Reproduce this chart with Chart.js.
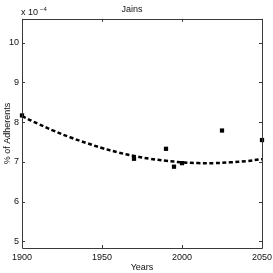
<!DOCTYPE html>
<html>
<head>
<meta charset="utf-8">
<script src="https://cdn.jsdelivr.net/npm/chart.js@4"></script>
<style>
html,body{margin:0;padding:0;background:#fff;overflow:hidden;}
#wrap{width:273px;height:273px;position:relative;}
</style>
</head>
<body>
<div id="wrap"><canvas id="c"></canvas></div>
<script>
// Observed data (units of 1e-4 %)
const obsYears = [1900, 1970, 1990, 1995, 2000, 2025, 2050];
const obsValues = [8.17, 7.08, 7.33, 6.88, 6.97, 7.79, 7.55];
// Fitted trend curve
const fitYears = [1900,1910,1920,1930,1940,1950,1960,1970,1980,1990,2000,2010,2020,2030,2040,2050];
const fitValues = [8.15,7.96,7.78,7.62,7.48,7.35,7.24,7.15,7.08,7.03,6.99,6.97,6.97,6.99,7.02,7.07];
const xTicks = [1900, 1950, 2000, 2050];
const yTicks = [5, 6, 7, 8, 9, 10];
const titleText = 'Jains';
const xTitle = 'Years';
const yTitle = '% of Adherents';

const FONT = 'Liberation Sans, Arial, sans-serif';

const boxPlugin = {
  id: 'box',
  afterDraw(chart) {
    const {ctx, chartArea: a, scales} = chart;
    ctx.save();
    ctx.strokeStyle = '#3a3a3a';
    ctx.lineWidth = 1;
    ctx.beginPath();
    ctx.rect(Math.round(a.left) + 0.5, Math.round(a.top) + 0.5, Math.round(a.right - a.left), Math.round(a.bottom - a.top));
    ctx.stroke();
    const tl = 3;
    ctx.beginPath();
    xTicks.forEach(v => {
      const x = Math.round(scales.x.getPixelForValue(v)) + 0.5;
      ctx.moveTo(x, a.bottom); ctx.lineTo(x, a.bottom - tl);
      ctx.moveTo(x, a.top); ctx.lineTo(x, a.top + tl);
    });
    yTicks.forEach(v => {
      const y = Math.round(scales.y.getPixelForValue(v)) + 0.5;
      ctx.moveTo(a.left, y); ctx.lineTo(a.left + tl, y);
      ctx.moveTo(a.right, y); ctx.lineTo(a.right - tl, y);
    });
    ctx.stroke();
    // exponent label
    ctx.fillStyle = '#111';
    ctx.font = '9px ' + FONT;
    ctx.textBaseline = 'alphabetic';
    ctx.textAlign = 'left';
    ctx.fillText('x 10', a.left - 1, a.top - 4);
    ctx.font = '6px ' + FONT;
    ctx.fillText('\u22124', a.left + 18, a.top - 8);
    ctx.restore();
  }
};

new Chart(document.getElementById('c'), {
  type: 'scatter',
  data: {
    datasets: [
      {
        type: 'line',
        data: fitYears.map((x, i) => ({x, y: fitValues[i]})),
        borderColor: '#000',
        borderWidth: 2.5,
        borderDash: [4, 2.5],
        pointRadius: 0,
        tension: 0.4,
        fill: false
      },
      {
        data: obsYears.map((x, i) => ({x, y: obsValues[i]})),
        pointStyle: 'rect',
        pointRadius: 3,
        backgroundColor: '#000',
        borderColor: '#000',
        borderWidth: 0
      }
    ]
  },
  options: {
    responsive: true,
    maintainAspectRatio: false,
    animation: false,
    clip: false,
    layout: {padding: {top: 0, right: 11, bottom: 0, left: 2}},
    plugins: {
      legend: {display: false},
      tooltip: {enabled: false},
      title: {
        display: true,
        text: titleText,
        color: '#111',
        font: {family: FONT, size: 9, weight: 'normal'},
        padding: {top: 4, bottom: 4}
      }
    },
    scales: {
      x: {
        type: 'linear',
        min: 1900, max: 2050,
        afterBuildTicks: s => { s.ticks = xTicks.map(v => ({value: v})); },
        afterFit: s => { s.height = 25; s.paddingLeft = 0; s.paddingRight = 0; },
        grid: {display: false, drawTicks: false},
        border: {display: false},
        ticks: {color: '#111', font: {family: FONT, size: 9}, padding: 4, maxRotation: 0, callback: v => String(v)},
        title: {display: true, text: xTitle, color: '#111', font: {family: FONT, size: 9}, padding: {top: 0, bottom: 0}}
      },
      y: {
        type: 'linear',
        min: 4.835, max: 10.6,
        afterBuildTicks: s => { s.ticks = yTicks.map(v => ({value: v})); },
        afterFit: s => { s.width = 20; s.paddingTop = 0; s.paddingBottom = 0; },
        grid: {display: false, drawTicks: false},
        border: {display: false},
        ticks: {color: '#111', font: {family: FONT, size: 9}, padding: 3, callback: v => String(v)},
        title: {display: true, text: yTitle, color: '#111', font: {family: FONT, size: 9}, padding: {top: 0, bottom: 0}}
      }
    }
  },
  plugins: [boxPlugin]
});
</script>
</body>
</html>
